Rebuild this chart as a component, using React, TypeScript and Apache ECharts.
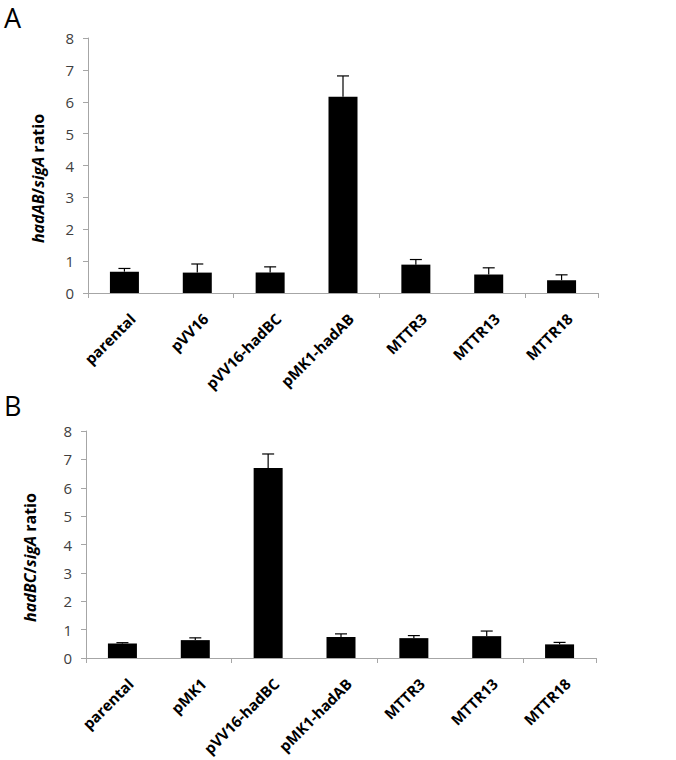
import React, { useEffect, useRef } from "react";
import * as echarts from "echarts";

const categoriesA = ["parental", "pVV16", "pVV16-hadBC", "pMK1-hadAB", "MTTR3", "MTTR13", "MTTR18"];
const valuesA = [0.67, 0.64, 0.64, 6.16, 0.89, 0.58, 0.40];
const errorsA = [0.10, 0.27, 0.18, 0.65, 0.16, 0.21, 0.17];

const categoriesB = ["parental", "pMK1", "pVV16-hadBC", "pMK1-hadAB", "MTTR3", "MTTR13", "MTTR18"];
const valuesB = [0.51, 0.63, 6.70, 0.74, 0.70, 0.77, 0.48];
const errorsB = [0.03, 0.08, 0.49, 0.11, 0.09, 0.18, 0.07];

const yTicks = [0, 1, 2, 3, 4, 5, 6, 7, 8];

const FONT = "'Open Sans', 'DejaVu Sans', sans-serif";
const AXIS_GRAY = "#a6a6a6";

function errorSeries(idx: number, values: number[], errors: number[]) {
  return {
    type: "custom",
    xAxisIndex: idx,
    yAxisIndex: idx,
    z: 5,
    data: values.map((v, i) => [i, v, v + errors[i]]),
    renderItem: (params: any, api: any) => {
      const x = api.value(0);
      const base = api.coord([x, api.value(1)]);
      const top = api.coord([x, api.value(2)]);
      const half = 6;
      return {
        type: "group",
        children: [
          {
            type: "line",
            shape: { x1: base[0], y1: base[1], x2: top[0], y2: top[1] },
            style: { stroke: "#000", lineWidth: 1.2 },
          },
          {
            type: "line",
            shape: { x1: top[0] - half, y1: top[1], x2: top[0] + half, y2: top[1] },
            style: { stroke: "#000", lineWidth: 1.2 },
          },
        ],
      };
    },
  };
}

// x-axis category labels, rotated 45°, anchored under each category centre
function labelSeries(idx: number, cats: string[]) {
  return {
    type: "custom",
    xAxisIndex: idx,
    yAxisIndex: idx,
    silent: true,
    clip: false,
    z: 6,
    data: cats.map((c, i) => [i, 0]),
    renderItem: (params: any, api: any) => {
      const i = api.value(0);
      const p = api.coord([i, 0]);
      return {
        type: "text",
        x: p[0] + 8,
        y: p[1] + 23,
        rotation: Math.PI / 4,
        style: {
          text: cats[i],
          fill: "#000",
          fontWeight: "bold",
          fontSize: 15,
          fontFamily: FONT,
          align: "right",
          verticalAlign: "middle",
        },
      };
    },
  };
}

function xAxis(idx: number, cats: string[]) {
  return {
    type: "category",
    gridIndex: idx,
    data: cats,
    boundaryGap: true,
    axisLine: { lineStyle: { color: AXIS_GRAY, width: 1 } },
    axisTick: { show: true, length: 5, alignWithLabel: false, lineStyle: { color: AXIS_GRAY } },
    axisLabel: { show: false },
  };
}

function yAxis(idx: number, gene: string, gap: number) {
  return {
    type: "value",
    gridIndex: idx,
    min: yTicks[0],
    max: yTicks[yTicks.length - 1],
    interval: 1,
    splitLine: { show: false },
    axisLine: { show: true, lineStyle: { color: AXIS_GRAY, width: 1 } },
    axisTick: { show: true, length: 5, lineStyle: { color: AXIS_GRAY } },
    axisLabel: { color: "#404040", fontSize: 15, fontFamily: FONT, margin: 14 },
    name: `{i|${gene}}{b|/}{i|sigA}{b| ratio}`,
    nameLocation: "middle",
    nameRotate: 90,
    nameGap: gap,
    nameTextStyle: {
      padding: [0, 26, 0, 0],
      rich: {
        i: { fontStyle: "italic", fontWeight: "bold", fontSize: 16, fontFamily: FONT, color: "#000" },
        b: { fontWeight: "bold", fontSize: 16, fontFamily: FONT, color: "#000" },
      },
    },
  };
}

export default function App() {
  const ref = useRef<HTMLDivElement>(null);
  useEffect(() => {
    if (!ref.current) return;
    const chart = echarts.init(ref.current, null, { renderer: "svg" });
    chart.setOption({
      animation: false,
      backgroundColor: "#fff",
      grid: [
        { left: 88, top: 38, width: 510, height: 255 },
        { left: 86, top: 431, width: 510, height: 227 },
      ],
      xAxis: [xAxis(0, categoriesA), xAxis(1, categoriesB)],
      yAxis: [yAxis(0, "hadAB", 42), yAxis(1, "hadBC", 48)],
      graphic: [
        { type: "text", left: 4, top: 4, style: { text: "A", fontSize: 27, lineHeight: 24, fontFamily: FONT, fill: "#000" } },
        { type: "text", left: 4, top: 392, style: { text: "B", fontSize: 27, lineHeight: 24, fontFamily: FONT, fill: "#000" } },
      ],
      series: [
        { type: "bar", xAxisIndex: 0, yAxisIndex: 0, data: valuesA, barWidth: 29, itemStyle: { color: "#000" } },
        errorSeries(0, valuesA, errorsA),
        labelSeries(0, categoriesA),
        { type: "bar", xAxisIndex: 1, yAxisIndex: 1, data: valuesB, barWidth: 29, itemStyle: { color: "#000" } },
        errorSeries(1, valuesB, errorsB),
        labelSeries(1, categoriesB),
      ],
    });
    return () => chart.dispose();
  }, []);
  return (
    <div
      ref={ref}
      style={{ position: "fixed", left: 0, top: 0, width: 676, height: 760, background: "#fff" }}
    />
  );
}
